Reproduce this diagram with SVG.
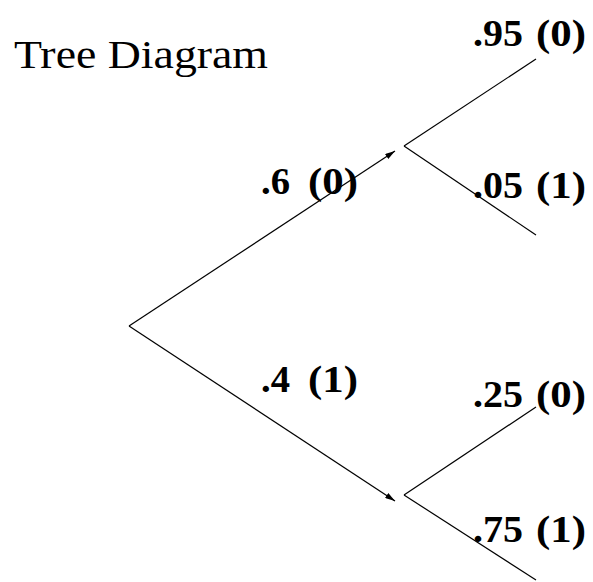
<svg xmlns="http://www.w3.org/2000/svg" width="593" height="582" viewBox="0 0 593 582">
<style>
.e{stroke:#000;stroke-width:1.2;fill:none}
.l{font-family:"Liberation Serif","Times New Roman",serif;font-weight:bold;font-size:38px;fill:#000}
.t{font-family:"Liberation Serif","Times New Roman",serif;font-size:40px;fill:#000}
</style>
<defs>
<marker id="a" viewBox="0 0 10 6" refX="10" refY="3" markerWidth="10" markerHeight="6" markerUnits="userSpaceOnUse" orient="auto">
<path d="M0,0 L10,3 L0,6 Z" fill="#000"/>
</marker>
</defs>
<rect width="593" height="582" fill="#fff"/>
<text class="t" x="14" y="68" textLength="254" lengthAdjust="spacingAndGlyphs">Tree Diagram</text>
<g id="connectors">
<line class="e" x1="129" y1="326" x2="395" y2="151" marker-end="url(#a)"/>
<line class="e" x1="129" y1="326" x2="395" y2="501" marker-end="url(#a)"/>
<line class="e" x1="404" y1="146" x2="536" y2="59"/>
<line class="e" x1="404" y1="146" x2="536" y2="235"/>
<line class="e" x1="404" y1="495" x2="536" y2="407"/>
<line class="e" x1="404" y1="495" x2="536" y2="580"/>
</g>
<g id="label-06"><text class="l" x="261" y="194" textLength="29" lengthAdjust="spacingAndGlyphs">.6</text><text class="l" x="308" y="194" textLength="50" lengthAdjust="spacingAndGlyphs">(0)</text></g>
<g id="label-04"><text class="l" x="261" y="392" textLength="29" lengthAdjust="spacingAndGlyphs">.4</text><text class="l" x="308" y="392" textLength="50" lengthAdjust="spacingAndGlyphs">(1)</text></g>
<g id="label-095"><text class="l" x="473" y="46" textLength="50" lengthAdjust="spacingAndGlyphs">.95</text><text class="l" x="536" y="46" textLength="50" lengthAdjust="spacingAndGlyphs">(0)</text></g>
<g id="label-005"><text class="l" x="473" y="198" textLength="50" lengthAdjust="spacingAndGlyphs">.05</text><text class="l" x="536" y="198" textLength="50" lengthAdjust="spacingAndGlyphs">(1)</text></g>
<g id="label-025"><text class="l" x="473" y="407" textLength="50" lengthAdjust="spacingAndGlyphs">.25</text><text class="l" x="536" y="407" textLength="50" lengthAdjust="spacingAndGlyphs">(0)</text></g>
<g id="label-075"><text class="l" x="473" y="542" textLength="50" lengthAdjust="spacingAndGlyphs">.75</text><text class="l" x="536" y="542" textLength="50" lengthAdjust="spacingAndGlyphs">(1)</text></g>
</svg>
